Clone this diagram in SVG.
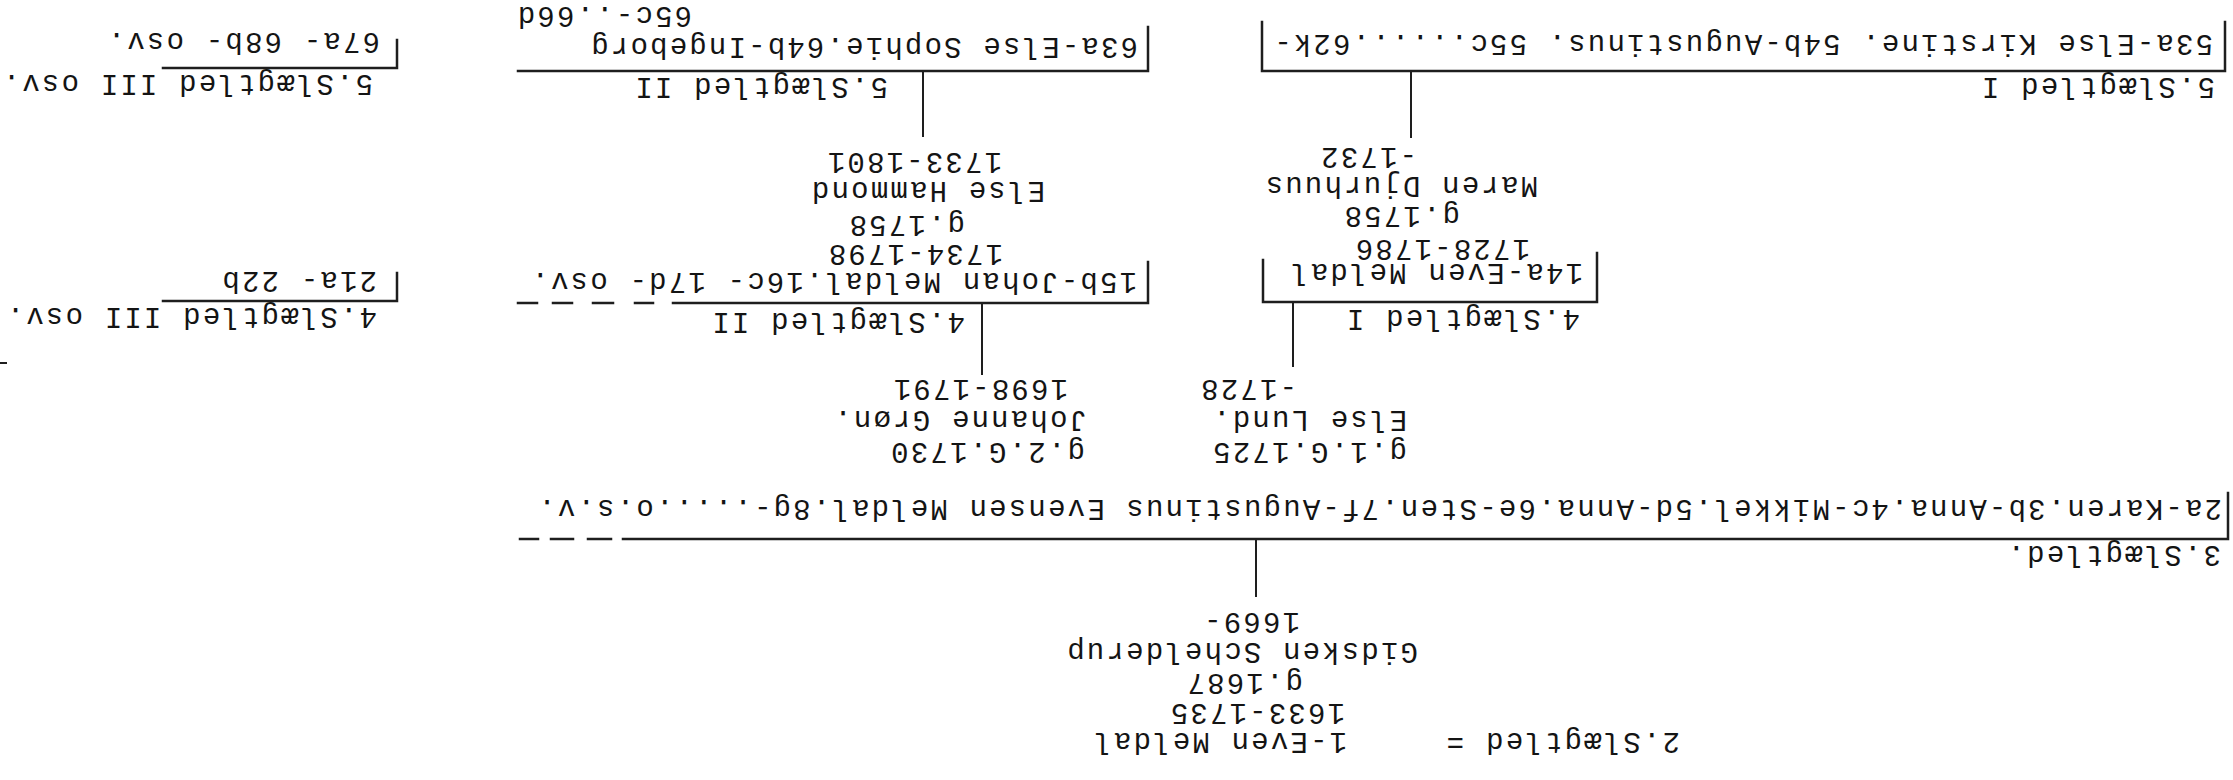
<svg xmlns="http://www.w3.org/2000/svg" width="2233" height="780" viewBox="0 0 2233 780">
<style>
text{font-family:"Liberation Mono","DejaVu Sans Mono",monospace;font-size:29px;letter-spacing:2.2px;fill:#141414}
.ln{stroke:#1e1e1e;stroke-width:2.5;fill:none;stroke-linecap:square}
.thin{stroke:#1e1e1e;stroke-width:2;fill:none}
</style>
<rect width="2233" height="780" fill="#ffffff"/>
<g transform="rotate(180 1116.5 390)">
  <g id="gen2-even-meldal">
    <text x="553" y="47">2.Slægtled</text>
    <text x="769" y="47">=</text>
    <text x="886" y="47">1-Even Meldal</text>
    <text x="888" y="76">1633-1735</text>
    <text x="930" y="106">g.1687</text>
    <text x="815" y="137">Gidsken Schelderup</text>
    <text x="933" y="167">1669-</text>
  </g>
  <g id="gen3">
    <text x="12" y="234">3.Slægtled.</text>
    <path class="ln" d="M5 287V241H1610"/>
    <path class="ln" d="M1622 241H1645M1660 241H1682M1695 241H1713"/>
    <text x="11" y="280">2a-Karen.3b-Anna.4c-Mikkel.5d-Anna.6e-Sten.7f-Augustinus Evensen Meldal.8g-.....o.s.v.</text>
  </g>
  <g id="spouse-else-lund">
    <text x="826" y="337">g.1.G.1725</text>
    <text x="826" y="369">Else Lund.</text>
    <text x="936" y="400">-1728</text>
  </g>
  <g id="spouse-johanne-gron">
    <text x="1148" y="337">g.2.G.1730</text>
    <text x="1146" y="369">Johanne Grøn.</text>
    <text x="1165" y="400">1698-1791</text>
  </g>
  <g id="gen4-I">
    <text x="653" y="470">4.Slægtled I</text>
    <path class="ln" d="M636 527V478H970V520"/>
    <text x="650" y="516">14a-Even Meldal</text>
    <text x="703" y="540">1728-1786</text>
  </g>
  <g id="gen4-II">
    <text x="1268" y="467">4.Slægtled II</text>
    <path class="ln" d="M1085 518V477H1560"/>
    <path class="ln" d="M1580 477H1598M1620 477H1640M1661 477H1680M1696 477H1715"/>
    <text x="1096" y="507">15b-Johan Meldal.16c- 17d- osv.</text>
    <text x="1230" y="535">1734-1798</text>
  </g>
  <g id="gen4-III">
    <text x="1856" y="472">4.Slægtled III osv.</text>
    <path class="ln" d="M1836 507V479H2070"/>
    <text x="1856" y="508">21a- 22b</text>
  </g>
  <g id="spouse-maren-djurhuus">
    <text x="773" y="573">g.1758</text>
    <text x="695" y="603">Maren Djurhuus</text>
    <text x="816" y="632">-1732</text>
  </g>
  <g id="spouse-else-hammond">
    <text x="1268" y="564">g.1758</text>
    <text x="1188" y="598">Else Hammond</text>
    <text x="1231" y="627">1733-1801</text>
  </g>
  <g id="gen5-I">
    <text x="18" y="702">5.Slægtled I</text>
    <path class="ln" d="M8 758V709H971V758"/>
    <text x="20" y="745">53a-Else Kirstine. 54b-Augustinus. 55c......62k-</text>
  </g>
  <g id="gen5-II">
    <text x="1345" y="702">5.Slægtled II</text>
    <path class="ln" d="M1085 753V709H1715"/>
    <text x="1095" y="742">63a-Else Sophie.64b-Ingeborg</text>
    <text x="1541" y="773">65c-..66d</text>
  </g>
  <g id="gen5-III">
    <text x="1860" y="705">5.Slægtled III osv.</text>
    <path class="ln" d="M1836 740V712H2070"/>
    <text x="1853" y="747">67a- 68b- osv.</text>
  </g>
  <g id="connectors">
    <path class="thin" d="M977 183V241"/>
    <path class="thin" d="M940 413V478"/>
    <path class="thin" d="M1251 405V477"/>
    <path class="thin" d="M822 642V709"/>
    <path class="thin" d="M1310 643V709"/>
    <path class="thin" d="M2226 417H2233"/>
  </g>
</g>
</svg>
